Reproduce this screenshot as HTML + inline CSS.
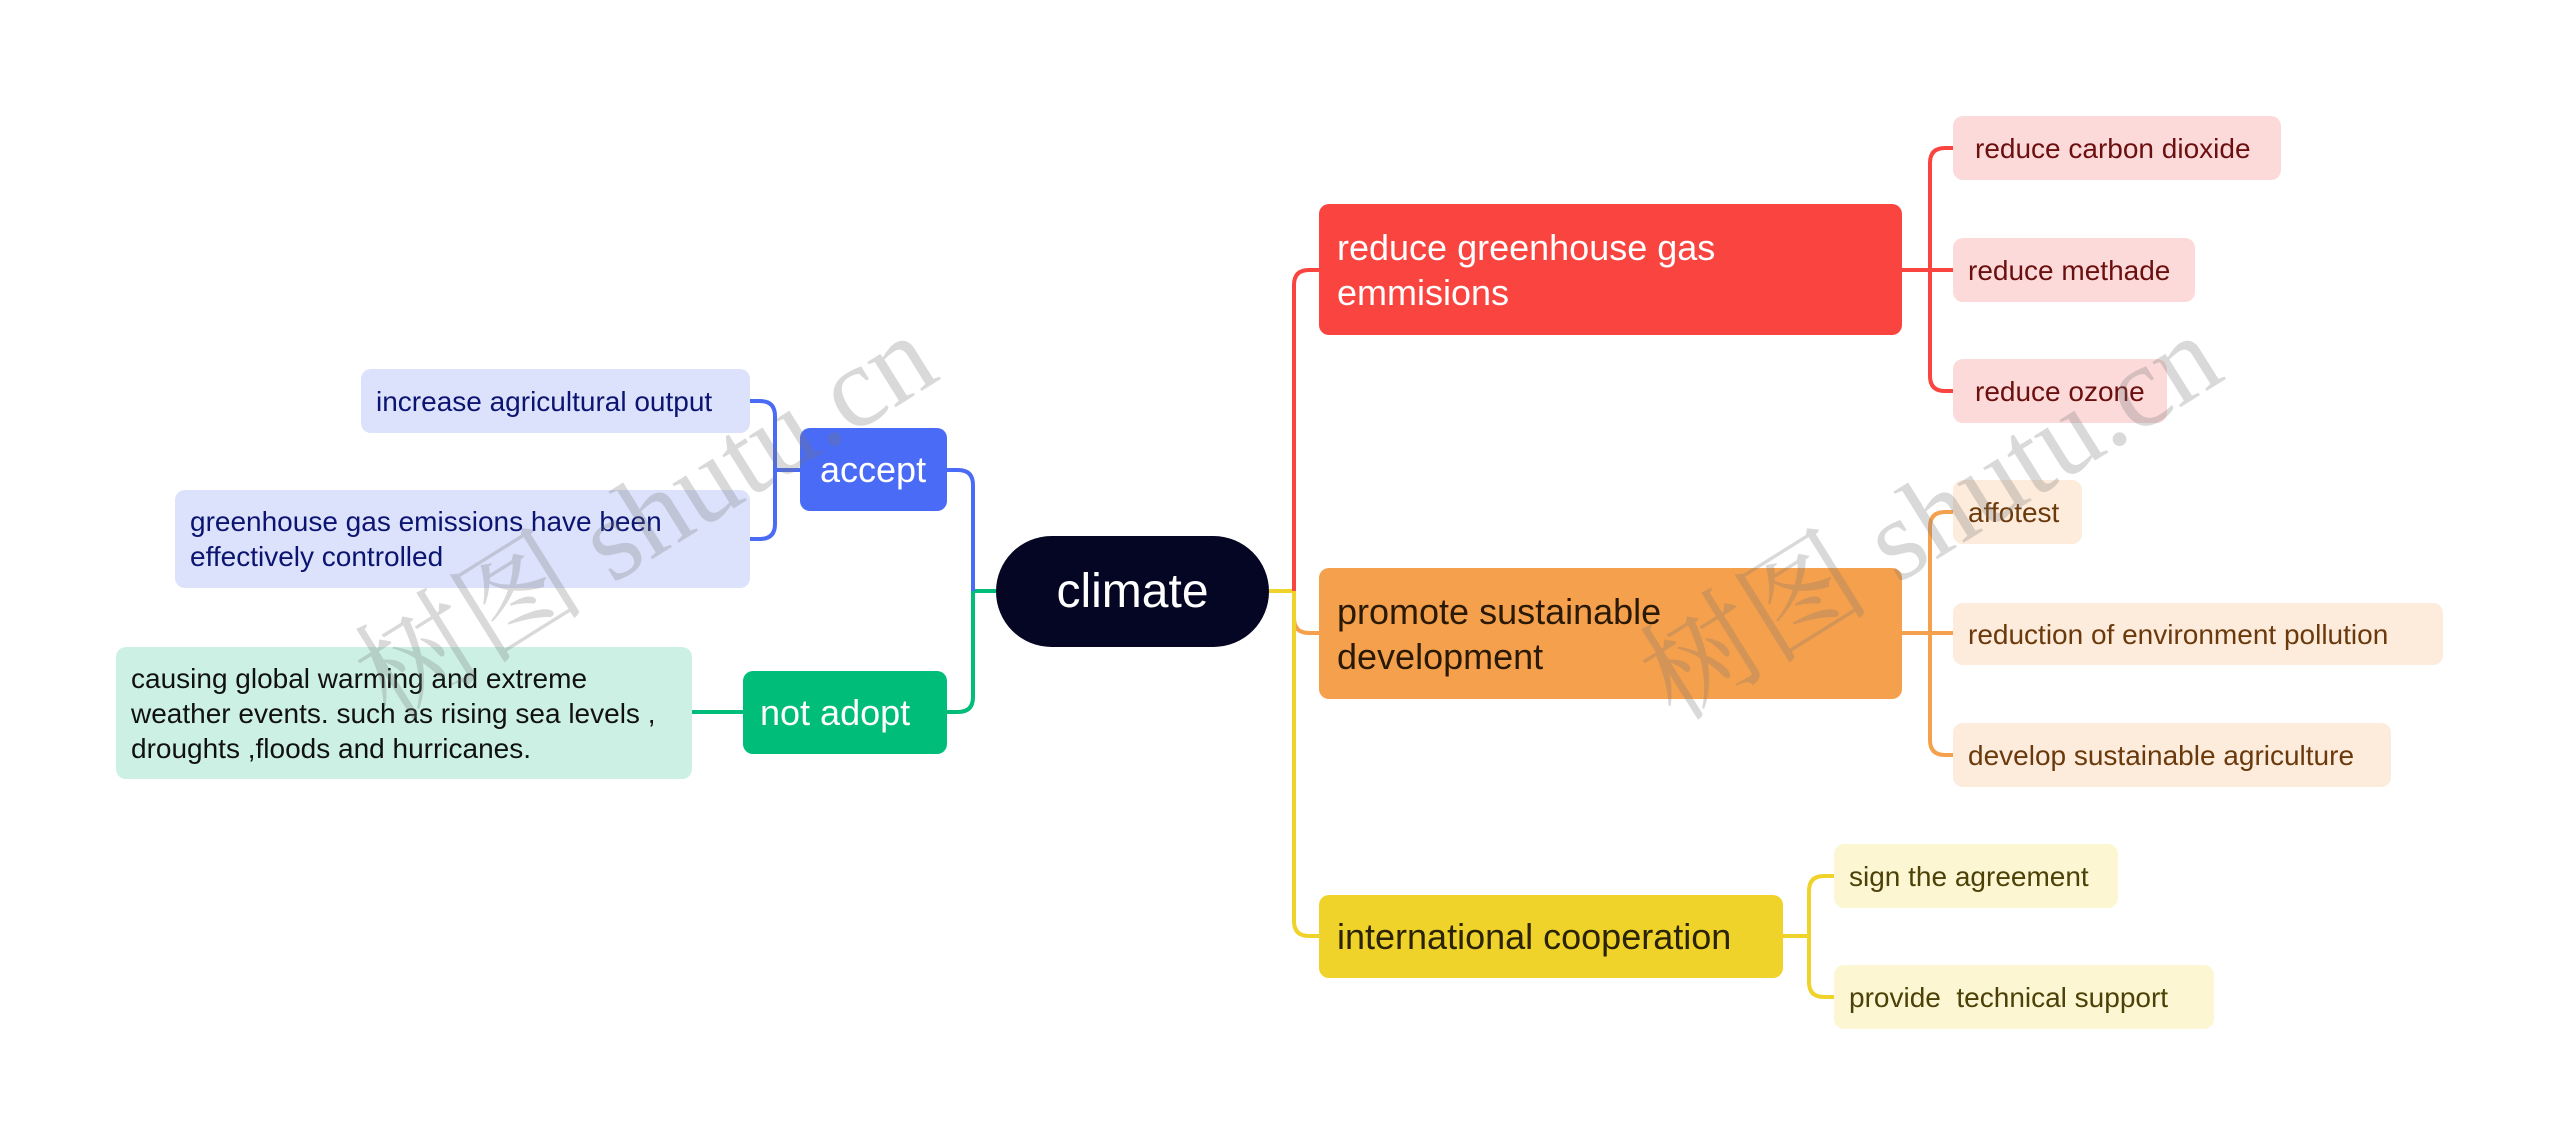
<!DOCTYPE html>
<html><head><meta charset="utf-8"><style>
body{margin:0;width:2560px;height:1146px;background:#fff;position:relative;overflow:hidden;font-family:"Segoe UI","Liberation Sans","Noto Sans CJK SC",sans-serif}
.n{position:absolute;box-sizing:border-box;border-radius:10px;display:flex;align-items:center;line-height:1.25}
.m{font-size:36px;color:#fff;padding-left:18px}
.s{font-size:28px;padding-left:15px}
.wm{position:absolute;font-family:"Liberation Serif","Noto Serif CJK SC",serif;font-size:116px;color:rgba(120,120,120,0.28);transform:rotate(-32deg);transform-origin:left top;white-space:nowrap}
</style></head><body>
<svg width="2560" height="1146" style="position:absolute;left:0;top:0" fill="none" stroke-width="4">
<path d="M1269 591 H1294" stroke="#F0D32A"/>
<path d="M1294 591 V285 Q1294 270 1309 270 H1319" stroke="#F94440"/>
<path d="M1294 591 V618 Q1294 633 1309 633 H1319" stroke="#F5A04C"/>
<path d="M1294 591 V921 Q1294 936 1309 936 H1319" stroke="#F0D32A"/>
<path d="M1902 270 H1930 M1930 270 V163 Q1930 148 1945 148 H1953 M1930 270 H1953 M1930 270 V376 Q1930 391 1945 391 H1953" stroke="#F94440"/>
<path d="M1902 633 H1930 M1930 633 V527 Q1930 512 1945 512 H1953 M1930 633 H1953 M1930 633 V740 Q1930 755 1945 755 H1953" stroke="#F5A04C"/>
<path d="M1783 936 H1809 M1809 936 V891 Q1809 876 1824 876 H1834 M1809 936 V982 Q1809 997 1824 997 H1834" stroke="#F0D32A"/>
<path d="M996 591 H973" stroke="#00BD7A"/>
<path d="M973 591 V485 Q973 470 958 470 H947" stroke="#4A6BF5"/>
<path d="M973 591 V697 Q973 712 958 712 H947" stroke="#00BD7A"/>
<path d="M800 470 H775 M775 470 V416 Q775 401 760 401 H750 M775 470 V524 Q775 539 760 539 H750" stroke="#4A6BF5"/>
<path d="M743 712 H692" stroke="#00BD7A"/>
</svg>

<div class="n" style="left:996px;top:536px;width:273px;height:111px;background:#050524;border-radius:56px;justify-content:center;color:#fff;font-size:48px">climate</div>

<div class="n m" style="left:800px;top:428px;width:147px;height:83px;background:#4A6BF5;padding-left:20px">accept</div>
<div class="n s" style="left:361px;top:369px;width:389px;height:64px;background:#DCE2FB;color:#0B1470">increase agricultural output</div>
<div class="n s" style="left:175px;top:490px;width:575px;height:98px;background:#DCE2FB;color:#0B1470">greenhouse gas emissions have been<br>effectively controlled</div>
<div class="n m" style="left:743px;top:671px;width:204px;height:83px;background:#00BD7A;padding-left:17px">not adopt</div>
<div class="n s" style="left:116px;top:647px;width:576px;height:132px;background:#CCF1E4;color:#111">causing global warming and extreme<br>weather events. such as rising sea levels ,<br>droughts ,floods and hurricanes.</div>

<div class="n m" style="left:1319px;top:204px;width:583px;height:131px;background:#F94440">reduce greenhouse gas<br>emmisions</div>
<div class="n s" style="left:1953px;top:116px;width:328px;height:64px;background:#FDDADA;color:#6B0F0F;padding-left:22px">reduce carbon dioxide</div>
<div class="n s" style="left:1953px;top:238px;width:242px;height:64px;background:#FDDADA;color:#6B0F0F">reduce methade</div>
<div class="n s" style="left:1953px;top:359px;width:214px;height:64px;background:#FDDADA;color:#6B0F0F;padding-left:22px">reduce ozone</div>

<div class="n m" style="left:1319px;top:568px;width:583px;height:131px;background:#F5A04C;color:#2a1a05">promote sustainable<br>development</div>
<div class="n s" style="left:1953px;top:480px;width:129px;height:64px;background:#FDEBDC;color:#6B3A0C">affotest</div>
<div class="n s" style="left:1953px;top:603px;width:490px;height:62px;background:#FDEBDC;color:#6B3A0C">reduction of environment pollution</div>
<div class="n s" style="left:1953px;top:723px;width:438px;height:64px;background:#FDEBDC;color:#6B3A0C">develop sustainable agriculture</div>

<div class="n m" style="left:1319px;top:895px;width:464px;height:83px;background:#F0D32A;color:#2a2305">international cooperation</div>
<div class="n s" style="left:1834px;top:844px;width:284px;height:64px;background:#FCF6D3;color:#4C4106">sign the agreement</div>
<div class="n s" style="left:1834px;top:965px;width:380px;height:64px;background:#FCF6D3;color:#4C4106;white-space:pre">provide  technical support</div>

<div class="wm" style="left:320px;top:610px">树图 shutu.cn</div>
<div class="wm" style="left:1605px;top:610px">树图 shutu.cn</div>
</body></html>
